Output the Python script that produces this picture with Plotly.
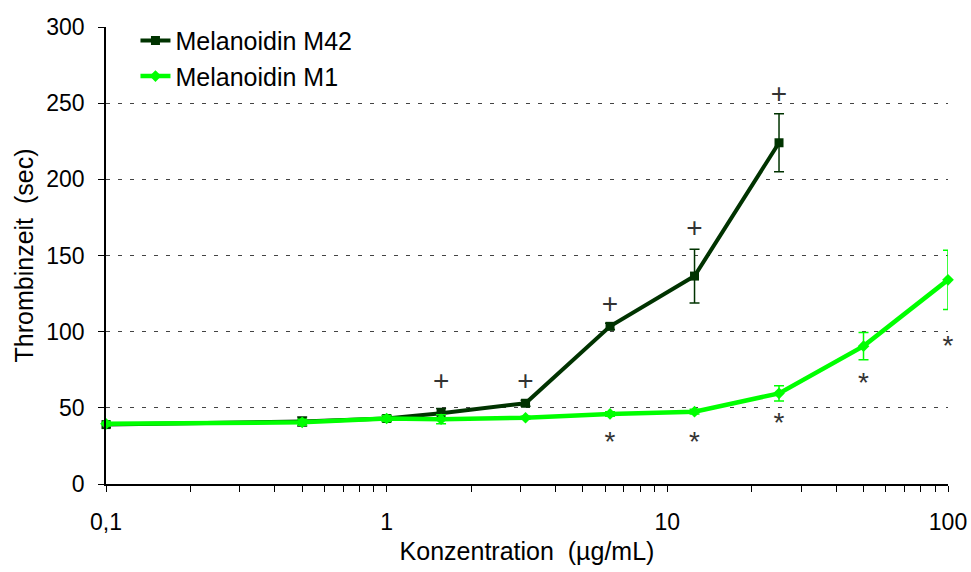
import plotly.graph_objects as go

conc_m42 = [0.1, 0.5, 1, 1.5625, 3.125, 6.25, 12.5, 25]
m42 = [39, 41, 43, 46.5, 53, 103.5, 136.5, 224]
m42_err = [2, 3, 2, 3, 2, 2, 17.6, 19]

conc_m1 = [0.1, 0.5, 1, 1.5625, 3.125, 6.25, 12.5, 25, 50, 100]
m1 = [39.5, 40.5, 43, 42.5, 43.5, 46, 47.5, 59.5, 90.5, 134]
m1_err = [1.5, 2, 2, 3, 1, 1.5, 1.5, 5, 9, 19.5]

plus_x = [1.5625, 3.125, 6.25, 12.5, 25]
plus_y = [66, 66, 117, 167, 255]
star_x = [6.25, 12.5, 25, 50, 100]
star_y = [26, 26, 39, 65, 89]

xtick_vals = [0.1, 1, 10, 100]
xtick_text = ["0,1", "1", "10", "100"]
minor_vals = [m * 10 ** e for e in (-1, 0, 1) for m in range(2, 10)]

FONT = "Liberation Sans, Arial, sans-serif"
DARK = "#003300"
BRIGHT = "#00FF00"

fig = go.Figure()
fig.add_trace(go.Scatter(
    x=conc_m42, y=m42, name="Melanoidin M42", mode="lines+markers",
    line=dict(color=DARK, width=4),
    marker=dict(symbol="square", size=9, color=DARK),
    error_y=dict(type="data", array=m42_err, color=DARK, thickness=1.5, width=5),
    cliponaxis=False,
))
fig.add_trace(go.Scatter(
    x=conc_m1, y=m1, name="Melanoidin M1", mode="lines+markers",
    line=dict(color=BRIGHT, width=4.5),
    marker=dict(symbol="diamond", size=9, color=BRIGHT),
    error_y=dict(type="data", array=m1_err, color=BRIGHT, thickness=1.5, width=5),
    cliponaxis=False,
))
fig.add_trace(go.Scatter(
    x=plus_x, y=plus_y, mode="text", text=["+"] * len(plus_x),
    textfont=dict(family=FONT, size=28, color="#333333"),
    showlegend=False, cliponaxis=False, hoverinfo="skip",
))
fig.add_trace(go.Scatter(
    x=star_x, y=star_y, mode="text", text=["*"] * len(star_x),
    textfont=dict(family=FONT, size=28, color="#333333"),
    textposition="middle center",
    showlegend=False, cliponaxis=False, hoverinfo="skip",
))

fig.update_layout(
    width=971, height=572,
    margin=dict(l=106, r=23, t=27, b=88),
    paper_bgcolor="white", plot_bgcolor="white",
    font=dict(family=FONT, size=23, color="black"),
    showlegend=True,
    legend=dict(x=0.035, y=1.02, xanchor="left", yanchor="top",
                bgcolor="rgba(0,0,0,0)", font=dict(size=25),
                itemwidth=30, tracegroupgap=0),
)
fig.update_xaxes(
    type="log", range=[-1, 2],
    tickvals=xtick_vals, ticktext=xtick_text,
    ticks="outside", ticklen=6, tickcolor="black", tickwidth=1,
    minor=dict(tickvals=minor_vals, ticks="outside", ticklen=6,
               tickcolor="black", tickwidth=1, showgrid=False),
    showline=True, linecolor="black", linewidth=1.5,
    showgrid=False, zeroline=False,
    ticklabelstandoff=11,
    automargin=False,
    title=dict(text="Konzentration  (µg/mL)", standoff=8, font=dict(size=25)),
)
fig.update_yaxes(
    range=[0, 300], tickvals=[0, 50, 100, 150, 200, 250, 300],
    ticks="outside", ticklen=6, tickcolor="black", tickwidth=1,
    showline=True, linecolor="black", linewidth=1.5,
    showgrid=True, gridcolor="#444444", gridwidth=1, griddash="4px,8px",
    zeroline=False,
    ticklabelstandoff=9,
    automargin=False,
    title=dict(text="Thrombinzeit  (sec)", standoff=6, font=dict(size=25)),
)
fig.write_html("out.html")
